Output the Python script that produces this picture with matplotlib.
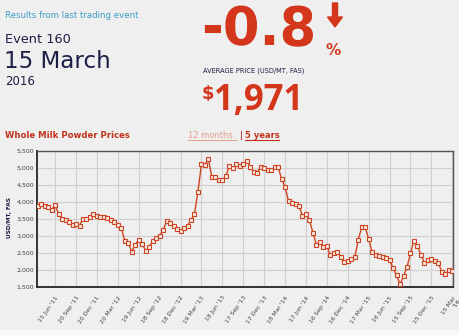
import numpy as np
import matplotlib
matplotlib.use("Agg")
import matplotlib.pyplot as plt
from matplotlib.patches import FancyArrow, Rectangle
from matplotlib.transforms import IdentityTransform, ScaledTranslation

# Whole milk powder prices, GDT events (USD/MT, FAS), last 5 years
prices = [
    3883, 3923, 3864, 3854, 3766, 3893, 3638, 3491, 3462, 3403,
    3315, 3335, 3296, 3501, 3501, 3560, 3638, 3589, 3560, 3560,
    3530, 3462, 3403, 3315, 3217, 2854, 2786, 2531, 2737, 2884,
    2756, 2560, 2658, 2844, 2923, 3001, 3168, 3432, 3364, 3285,
    3187, 3148, 3217, 3296, 3462, 3638, 4295, 5109, 5089, 5246,
    4716, 4716, 4638, 4638, 4755, 5049, 5000, 5109, 5049, 5098,
    5206, 5029, 4873, 4853, 5029, 4980, 4931, 4931, 5010, 5010,
    4676, 4431, 4010, 3970, 3921, 3862, 3590, 3650, 3460, 3089,
    2727, 2825, 2678, 2698, 2433, 2501, 2531, 2384, 2227, 2266,
    2305, 2364, 2874, 3246, 3246, 2903, 2515, 2433, 2403, 2375,
    2335, 2290, 2050, 1844, 1570, 1815, 2070, 2482, 2854, 2697,
    2433, 2207, 2286, 2305, 2266, 2190, 1942, 1874, 1987, 1971,
]

tick_labels = ["15 Jun '11", "20 Sep '11", "20 Dec '11", "20 Mar '12", "19 Jun '12",
               "18 Sep '12", "18 Dec '12", "19 Mar '13", "18 Jun '13", "17 Sep '13",
               "17 Dec '13", "18 Mar '14", "17 Jun '14", "16 Sep '14", "16 Dec '14",
               "17 Mar '15", "16 Jun '15", "15 Sep '15", "15 Dec '15", "15 Mar\n'16"]
tick_idx = [5 + 6 * k for k in range(len(tick_labels))]
y_ticks = [1500, 2000, 2500, 3000, 3500, 4000, 4500, 5000, 5500]

change_pct = "-0.8"
avg_price = "1,971"

W, H = 460, 336
bg = '#efefef'
red = '#d3361b'
line_red = '#cf4420'
navy = '#1c1f45'

fig = plt.figure(figsize=(W / 100, H / 100), dpi=100, facecolor=bg)

def fx(px):
    return px / W

def fy(py):
    return 1 - py / H

# header texts
fig.text(fx(5), fy(18), "Results from last trading event", color='#3a9ec4', fontsize=6.2)
fig.text(fx(5), fy(43), "Event 160", color=navy, fontsize=9.3)
fig.text(fx(4), fy(68), "15 March", color=navy, fontsize=16.6)
fig.text(fx(5), fy(85), "2016", color=navy, fontsize=8.5)

fig.text(fx(201), fy(45), change_pct, color=red, fontsize=38, fontweight='bold')
fig.text(fx(326), fy(55), "%", color=red, fontsize=11, fontweight='bold')
arrow = FancyArrow(335, H - 3, 0, -24, width=5, head_width=15, head_length=10,
                   length_includes_head=True, color=red, transform=IdentityTransform())
fig.patches.append(arrow)

fig.text(fx(203), fy(73), "AVERAGE PRICE (USD/MT, FAS)", color=navy, fontsize=4.8)
fig.text(fx(202), fy(99), r"\$", color=red, fontsize=13, fontweight='bold')
fig.text(fx(214), fy(110), avg_price, color=red, fontsize=25, fontweight='bold',
         family='Open Sans')

fig.text(fx(5), fy(138), "Whole Milk Powder Prices", color='#c2321b', fontsize=6.1,
         fontweight='bold')
fig.text(fx(188), fy(138), "12 months", color='#e8a08c', fontsize=6.0)
fig.text(fx(240), fy(138), "|", color='#c2321b', fontsize=6.0, fontweight='bold')
fig.text(fx(245), fy(138), "5 years", color='#c2321b', fontsize=6.0, fontweight='bold')
# underlines
fig.add_artist(plt.Line2D([fx(188), fx(237)], [fy(140), fy(140)], color='#e8a08c', lw=0.7))
fig.add_artist(plt.Line2D([fx(245), fx(279)], [fy(140), fy(140)], color='#c2321b', lw=0.8))

# lighter strip at bottom
fig.patches.append(Rectangle((0, 0), 1, 6 / H, transform=fig.transFigure,
                             facecolor='#f8f8f8', edgecolor='none'))

ax = fig.add_axes([fx(37), fy(286.7), fx(453) - fx(37), (286.7 - 150.7) / H])
ax.set_facecolor(bg)
x = np.arange(len(prices))
ax.plot(x, prices, color=line_red, lw=1.0, marker='s', ms=2.8,
        mfc='#f6e8e2', mec=line_red, mew=0.8, zorder=3)

ax.set_xlim(-0.2, len(prices) - 0.8)
ax.set_ylim(1500, 5500)
ax.set_yticks(y_ticks)
ax.set_yticklabels([f"{v:,}" for v in y_ticks], fontsize=4.5, color='#444444')
ax.set_xticks(tick_idx)
ax.set_xticklabels(tick_labels, fontsize=4.3, color='#444444', rotation=55,
                   ha='right', va='top', rotation_mode='anchor')
shift = ScaledTranslation(4 / 72, 0, fig.dpi_scale_trans)
for lab in ax.get_xticklabels():
    lab.set_transform(lab.get_transform() + shift)
ax.tick_params(axis='both', length=0, pad=2)
ax.tick_params(axis='x', pad=6)
ax.grid(True, color='#cfcfcf', lw=0.8)
ax.set_axisbelow(True)
for side in ['top', 'right']:
    ax.spines[side].set_color('#555555')
    ax.spines[side].set_linewidth(1.0)
for side in ['left', 'bottom']:
    ax.spines[side].set_color('#333333')
    ax.spines[side].set_linewidth(1.4)

fig.text(fx(10), fy(218), "USD/MT, FAS", color=navy, fontsize=4.2, fontweight='bold',
         rotation=90, ha='center', va='center')

fig.savefig('out.png', dpi=100, facecolor=bg)
